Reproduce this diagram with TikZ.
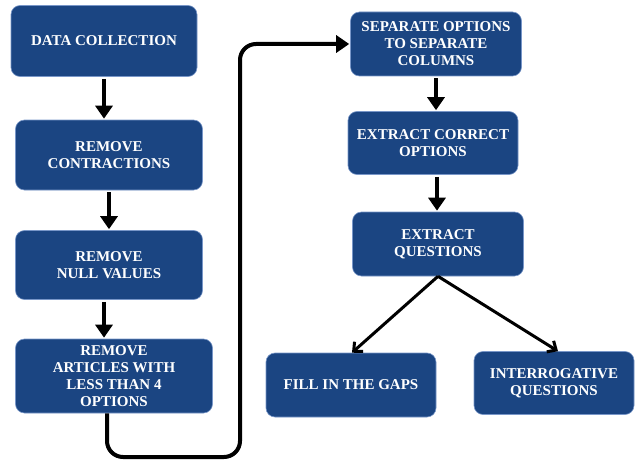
\documentclass[tikz,border=0pt]{standalone}
\usepackage{fontspec}
\setmainfont{Liberation Serif}
\usetikzlibrary{arrows.meta, positioning}
\definecolor{boxblue}{RGB}{27,69,130}
\definecolor{boxedge}{RGB}{120,150,200}

\begin{document}
\begin{tikzpicture}[x=1pt, y=-1pt,
		step box/.style={draw=boxedge, line width=0.6pt, fill=boxblue, rounded corners=9pt,
			text=white, align=center, inner sep=2pt,
			font=\bfseries\fontsize{15}{17}\selectfont},
		thick arrow/.style={line width=4pt, -{Triangle[width=17pt, length=13pt]},
			shorten <=2pt, shorten >=1pt},
		split arrow/.style={line width=3pt, -{Straight Barb[width=13pt, length=7pt]}}]
	\useasboundingbox (0,0) rectangle (635,460);
	% Left column
	\node[step box, minimum width=186pt, minimum height=71pt] (data) at (104,41) {DATA COLLECTION};
	\node[step box, minimum width=187pt, minimum height=70pt] (contr) at (109,155) {REMOVE\\CONTRACTIONS};
	\node[step box, minimum width=187pt, minimum height=69pt] (null) at (109,265) {REMOVE\\NULL VALUES};
	\node[step box, minimum width=197pt, minimum height=74pt] (art) at (114,376) {REMOVE\\ARTICLES WITH\\LESS THAN 4\\OPTIONS};
	% Right column
	\node[step box, minimum width=171pt, minimum height=64pt] (sep) at (436,44) {SEPARATE OPTIONS\\TO SEPARATE\\COLUMNS};
	\node[step box, minimum width=170pt, minimum height=63pt] (corr) at (433,143) {EXTRACT CORRECT\\OPTIONS};
	\node[step box, minimum width=171pt, minimum height=64pt] (quest) at (438,244) {EXTRACT\\QUESTIONS};
	\node[step box, minimum width=170pt, minimum height=64pt] (fill) at (351,385) {FILL IN THE GAPS};
	\node[step box, minimum width=160pt, minimum height=63pt] (inter) at (554,383) {INTERROGATIVE\\QUESTIONS};
	% Straight arrows
	\draw[thick arrow] (data.south) -- (data.south |- contr.north);
	\draw[thick arrow] (contr.south) -- (contr.south |- null.north);
	\draw[thick arrow] ([xshift=-5pt]null.south) -- ([xshift=-5pt]null.south |- art.north);
	\draw[thick arrow] (sep.south) -- (sep.south |- corr.north);
	\draw[thick arrow] ([xshift=4pt]corr.south) -- ([xshift=4pt]corr.south |- quest.north);
	% Link between the columns
	\coordinate (turn) at (240,457);
	\draw[thick arrow, shorten <=0pt, rounded corners=16pt] ([xshift=-7pt]art.south) |- (turn) |- (sep.west);
	% Split into the two outputs
	\draw[split arrow] (quest.south) -- ([xshift=1pt]fill.north);
	\draw[split arrow] (quest.south) -- ([xshift=4pt]inter.north);
\end{tikzpicture}
\end{document}
